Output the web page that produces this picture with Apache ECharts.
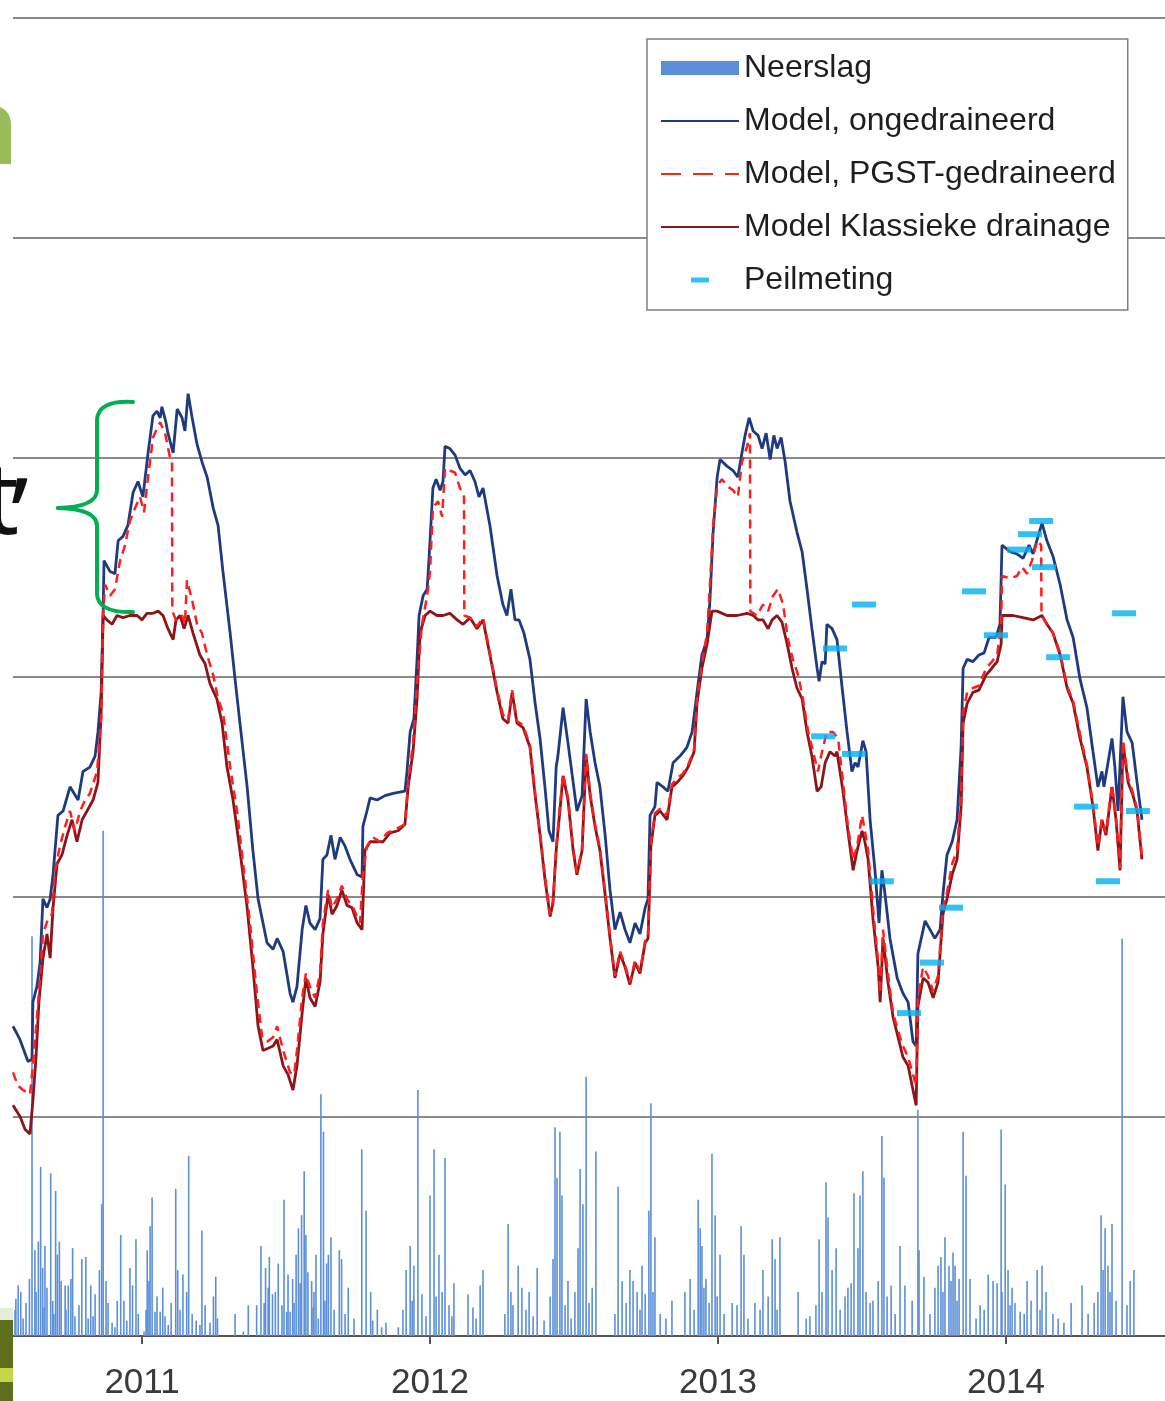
<!DOCTYPE html>
<html>
<head>
<meta charset="utf-8">
<script src="https://cdn.jsdelivr.net/npm/echarts@6/dist/echarts.min.js"></script>
<style>
html,body{margin:0;padding:0;background:#fff;}
#chart{width:1165px;height:1401px;}
</style>
</head>
<body>
<div id="chart"></div>
<script>
// x values: decimal years; groundwater values: level units (grid step 100); precipitation: mm/day
var yearTicks = [2011, 2012, 2013, 2014];
var seriesNames = ['Neerslag', 'Model, ongedraineerd', 'Model, PGST-gedraineerd', 'Model Klassieke drainage', 'Peilmeting'];

var neerslag = [
[2010.562,1.7],[2010.570,2.3],[2010.579,2.0],[2010.609,2.6],[2010.618,18.2],[2010.628,3.9],[2010.640,4.3],[2010.648,7.7],
[2010.655,3.1],[2010.663,4.1],[2010.683,7.4],[2010.690,1.6],[2010.700,6.6],[2010.706,3.7],[2010.713,4.3],[2010.733,2.3],
[2010.744,2.3],[2010.753,2.6],[2010.759,4.0],[2010.791,3.5],[2010.805,3.6],[2010.813,0.8],[2010.822,2.3],[2010.837,1.9],
[2010.852,3.0],[2010.860,6.0],[2010.865,23.0],[2010.875,2.5],[2010.906,0.4],[2010.914,1.6],[2010.926,4.6],[2010.937,1.6],
[2010.947,0.7],[2010.958,3.1],[2010.967,2.3],[2010.979,4.4],[2010.987,1.0],[2011.007,0.2],[2011.018,3.9],[2011.028,5.0],
[2011.035,6.3],[2011.045,1.1],[2011.063,1.1],[2011.072,2.2],[2011.091,0.5],[2011.117,6.7],[2011.124,3.0],[2011.155,2.0],
[2011.162,8.2],[2011.201,0.5],[2011.208,4.8],[2011.248,1.8],[2011.256,2.7],[2011.262,0.8],[2011.323,1.0],[2011.352,0.2],
[2011.369,1.4],[2011.398,1.4],[2011.413,4.1],[2011.429,3.1],[2011.442,3.6],[2011.453,1.9],[2011.463,2.0],[2011.473,3.3],
[2011.493,6.2],[2011.502,1.1],[2011.514,1.1],[2011.523,2.6],[2011.535,3.7],[2011.543,4.9],[2011.554,5.5],[2011.563,7.5],
[2011.569,4.6],[2011.589,2.5],[2011.597,2.0],[2011.604,3.7],[2011.612,0.8],[2011.621,11.0],[2011.630,9.3],[2011.641,3.3],
[2011.647,3.7],[2011.656,4.5],[2011.685,3.9],[2011.693,3.5],[2011.716,2.2],[2011.763,8.5],[2011.778,5.7],[2011.794,2.0],
[2011.801,0.7],[2011.817,1.2],[2011.832,0.4],[2011.847,0.6],[2011.890,0.4],[2011.917,3.0],[2011.931,4.1],[2011.944,3.2],
[2011.958,11.2],[2011.972,1.9],[2012.000,6.4],[2012.014,8.5],[2012.031,3.7],[2012.052,8.1],[2012.066,1.4],[2012.083,2.4],
[2012.132,1.9],[2012.149,1.3],[2012.174,2.3],[2012.184,3.0],[2012.271,5.1],[2012.288,1.4],[2012.306,3.2],[2012.319,2.2],
[2012.344,2.0],[2012.372,3.1],[2012.396,0.7],[2012.434,9.5],[2012.441,7.2],[2012.451,9.3],[2012.458,6.4],[2012.479,2.5],
[2012.521,7.6],[2012.531,6.0],[2012.542,11.8],[2012.552,1.5],[2012.576,8.4],[2012.653,6.8],[2012.667,2.5],[2012.694,3.0],
[2012.705,2.5],[2012.736,3.2],[2012.747,1.9],[2012.760,5.7],[2012.767,10.6],[2012.781,4.5],[2012.799,1.0],[2012.840,1.6],
[2012.885,2.0],[2012.903,2.6],[2012.931,6.2],[2012.938,4.9],[2012.944,4.1],[2012.958,2.6],[2012.979,8.3],[2012.990,5.5],
[2013.007,3.7],[2013.049,1.5],[2013.080,5.0],[2013.090,3.7],[2013.128,1.5],[2013.156,3.0],[2013.188,4.4],[2013.198,3.5],
[2013.215,4.5],[2013.278,2.0],[2013.306,0.8],[2013.319,0.9],[2013.351,4.4],[2013.375,7.0],[2013.382,5.4],[2013.396,3.0],
[2013.410,4.0],[2013.451,2.2],[2013.472,6.5],[2013.486,4.0],[2013.493,6.4],[2013.503,7.5],[2013.538,1.6],[2013.569,9.1],
[2013.576,7.2],[2013.601,2.3],[2013.632,4.1],[2013.649,2.3],[2013.694,10.3],[2013.698,3.9],[2013.715,2.7],[2013.764,3.2],
[2013.774,3.6],[2013.788,4.5],[2013.802,3.2],[2013.816,3.8],[2013.823,3.2],[2013.837,2.6],[2013.851,9.3],[2013.861,7.3],
[2013.875,2.6],[2013.910,1.4],[2013.938,2.8],[2013.955,2.5],[2013.969,2.4],[2013.983,9.4],[2013.997,6.9],[2014.014,1.4],
[2014.031,1.5],[2014.049,1.1],[2014.073,2.5],[2014.108,3.0],[2014.125,3.2],[2014.163,1.0],[2014.226,1.5],[2014.264,2.3],
[2014.306,1.5],[2014.330,5.5],[2014.344,4.9],[2014.354,3.2],[2014.368,5.1],[2014.403,18.1],[2014.431,2.5],[2014.444,3.0],
[2010.559,1.2],[2010.587,0.8],[2010.597,1.5],[2010.632,2.0],[2010.660,1.3],[2010.670,2.2],[2010.694,1.0],[2010.719,2.5],
[2010.736,1.2],[2010.767,0.9],[2010.781,1.4],[2010.830,0.9],[2010.882,1.5],[2010.896,0.6],[2011.014,1.2],[2011.024,2.5],
[2011.052,1.8],[2011.080,0.9],[2011.101,1.5],[2011.132,1.2],[2011.142,2.8],[2011.174,1.0],[2011.188,0.7],[2011.219,1.4],
[2011.236,0.6],[2011.424,1.5],[2011.438,2.2],[2011.486,1.4],[2011.507,2.8],[2011.528,1.5],[2011.549,2.4],[2011.576,2.9],
[2011.594,1.3],[2011.635,1.6],[2011.667,1.2],[2011.705,1.0],[2011.736,0.8],[2011.906,1.2],[2011.938,1.6],[2011.986,0.9],
[2012.021,1.8],[2012.042,2.0],[2012.076,0.9],[2012.160,0.8],[2012.260,1.0],[2012.281,2.0],[2012.333,1.2],[2012.358,0.9],
[2012.417,1.8],[2012.427,3.5],[2012.469,1.4],[2012.490,0.8],[2012.503,2.0],[2012.514,4.0],[2012.563,2.2],[2012.642,1.0],
[2012.681,1.5],[2012.719,2.0],[2012.729,1.2],[2012.774,2.0],[2012.819,0.8],[2012.917,1.2],[2012.951,2.2],[2012.969,1.5],
[2012.997,1.8],[2013.021,1.0],[2013.066,1.4],[2013.104,0.8],[2013.146,1.2],[2013.174,1.8],[2013.205,1.2],[2013.340,1.4],
[2013.361,2.0],[2013.424,1.2],[2013.441,1.8],[2013.462,2.4],[2013.514,2.0],[2013.528,1.5],[2013.556,2.5],[2013.587,1.8],
[2013.615,1.0],[2013.674,1.6],[2013.736,1.0],[2013.753,2.2],[2013.781,2.0],[2013.809,2.5],[2013.830,1.6],[2013.896,0.8],
[2013.924,1.2],[2013.986,2.0],[2014.007,3.0],[2014.021,2.2],[2014.063,1.0],[2014.087,1.6],[2014.118,1.2],[2014.139,2.0],
[2014.181,0.8],[2014.201,0.6],[2014.285,1.0],[2014.319,2.0],[2014.337,3.0],[2014.361,2.0],[2014.382,1.6],[2014.420,1.4]
];

var ongedraineerd = [
[2010.552,141],[2010.576,135],[2010.604,125],[2010.618,126],[2010.621,152],[2010.635,159],[2010.646,170],[2010.656,199],
[2010.670,195],[2010.681,199],[2010.691,210],[2010.708,237],[2010.726,239],[2010.750,250],[2010.778,244],[2010.795,257],
[2010.819,259],[2010.837,264],[2010.847,275],[2010.858,293],[2010.865,330],[2010.868,353],[2010.889,348],[2010.906,347],
[2010.917,362],[2010.934,364],[2010.951,369],[2010.969,384],[2010.986,389],[2011.003,382],[2011.021,402],[2011.038,419],
[2011.052,421],[2011.063,418],[2011.069,423],[2011.083,416],[2011.090,411],[2011.108,402],[2011.122,422],[2011.139,418],
[2011.149,412],[2011.160,429],[2011.174,418],[2011.191,406],[2011.208,398],[2011.226,391],[2011.247,377],[2011.264,369],
[2011.281,348],[2011.306,320],[2011.323,299],[2011.340,279],[2011.365,250],[2011.385,221],[2011.403,199],[2011.420,188],
[2011.434,179],[2011.455,176],[2011.469,181],[2011.490,175],[2011.514,156],[2011.524,152],[2011.538,159],[2011.556,185],
[2011.569,196],[2011.583,188],[2011.601,185],[2011.618,190],[2011.628,217],[2011.642,219],[2011.656,228],[2011.670,217],
[2011.688,227],[2011.705,223],[2011.722,217],[2011.747,210],[2011.764,209],[2011.767,232],[2011.781,239],[2011.792,245],
[2011.816,244],[2011.844,246],[2011.872,247],[2011.913,248],[2011.920,257],[2011.931,275],[2011.944,281],[2011.955,308],
[2011.962,328],[2011.976,337],[2011.990,340],[2011.997,355],[2012.010,386],[2012.021,390],[2012.035,385],[2012.045,389],
[2012.052,405],[2012.069,404],[2012.087,401],[2012.104,395],[2012.122,392],[2012.139,394],[2012.156,389],[2012.170,382],
[2012.184,386],[2012.208,369],[2012.233,346],[2012.253,333],[2012.267,328],[2012.281,340],[2012.295,326],[2012.309,326],
[2012.326,320],[2012.347,308],[2012.365,288],[2012.382,272],[2012.399,250],[2012.413,230],[2012.427,225],[2012.438,259],
[2012.444,264],[2012.462,286],[2012.479,270],[2012.497,252],[2012.510,239],[2012.528,246],[2012.542,290],[2012.556,275],
[2012.573,261],[2012.590,250],[2012.608,228],[2012.625,203],[2012.642,185],[2012.660,193],[2012.677,185],[2012.694,179],
[2012.712,188],[2012.729,183],[2012.747,195],[2012.757,199],[2012.764,237],[2012.781,241],[2012.788,252],[2012.809,250],
[2012.826,248],[2012.844,261],[2012.868,264],[2012.892,268],[2012.910,275],[2012.927,293],[2012.944,310],[2012.962,317],
[2012.972,335],[2012.983,366],[2012.997,391],[2013.007,399],[2013.031,396],[2013.052,394],[2013.069,391],[2013.083,402],
[2013.094,410],[2013.108,418],[2013.122,412],[2013.139,410],[2013.153,404],[2013.167,411],[2013.181,399],[2013.194,410],
[2013.205,404],[2013.219,409],[2013.233,398],[2013.250,380],[2013.274,366],[2013.292,357],[2013.309,340],[2013.326,322],
[2013.344,304],[2013.351,298],[2013.361,307],[2013.372,306],[2013.378,324],[2013.396,322],[2013.413,317],[2013.431,295],
[2013.448,275],[2013.465,257],[2013.476,261],[2013.486,259],[2013.503,271],[2013.514,266],[2013.528,235],[2013.545,212],
[2013.559,188],[2013.569,212],[2013.580,201],[2013.597,181],[2013.622,163],[2013.642,156],[2013.660,152],[2013.677,134],
[2013.688,132],[2013.694,174],[2013.719,189],[2013.736,185],[2013.753,181],[2013.771,185],[2013.781,201],[2013.795,219],
[2013.813,225],[2013.830,235],[2013.844,268],[2013.851,304],[2013.865,308],[2013.885,307],[2013.906,310],[2013.924,311],
[2013.941,318],[2013.965,318],[2013.979,324],[2013.986,360],[2014.014,357],[2014.038,356],[2014.059,354],[2014.080,360],
[2014.094,356],[2014.111,364],[2014.125,370],[2014.142,362],[2014.163,355],[2014.188,342],[2014.212,326],[2014.233,318],
[2014.257,299],[2014.281,286],[2014.302,266],[2014.319,250],[2014.333,257],[2014.340,250],[2014.354,261],[2014.368,272],
[2014.378,259],[2014.389,239],[2014.406,291],[2014.420,275],[2014.438,270],[2014.455,252],[2014.472,235]
];

var pgst = [
[2010.552,120],[2010.569,114],[2010.587,112],[2010.611,110],[2010.621,123],[2010.635,145],[2010.646,163],[2010.656,183],
[2010.674,190],[2010.687,192],[2010.698,212],[2010.715,223],[2010.733,232],[2010.750,239],[2010.767,230],[2010.785,239],
[2010.802,244],[2010.819,247],[2010.844,257],[2010.858,281],[2010.865,330],[2010.872,342],[2010.889,337],[2010.906,340],
[2010.924,353],[2010.941,360],[2010.958,371],[2010.976,377],[2010.993,382],[2011.007,375],[2011.021,391],[2011.038,409],
[2011.052,413],[2011.063,416],[2011.080,411],[2011.097,400],[2011.104,398],[2011.105,330],[2011.118,326],[2011.139,328],
[2011.149,324],[2011.156,344],[2011.174,335],[2011.191,324],[2011.208,320],[2011.226,310],[2011.247,301],[2011.264,290],
[2011.281,284],[2011.306,259],[2011.330,239],[2011.351,215],[2011.375,188],[2011.399,156],[2011.417,136],[2011.434,134],
[2011.455,136],[2011.469,141],[2011.490,130],[2011.514,120],[2011.528,119],[2011.538,130],[2011.556,154],[2011.569,165],
[2011.583,159],[2011.601,154],[2011.618,165],[2011.628,188],[2011.646,203],[2011.660,195],[2011.677,199],[2011.694,205],
[2011.712,199],[2011.733,195],[2011.757,188],[2011.767,210],[2011.781,223],[2011.802,227],[2011.826,225],[2011.851,229],
[2011.885,231],[2011.913,233],[2011.924,252],[2011.941,270],[2011.955,297],[2011.972,324],[2011.990,337],[2012.000,348],
[2012.010,377],[2012.028,380],[2012.042,373],[2012.052,395],[2012.069,394],[2012.087,393],[2012.104,386],[2012.118,382],
[2012.119,328],[2012.139,327],[2012.163,323],[2012.184,327],[2012.208,311],[2012.233,294],[2012.253,283],[2012.271,280],
[2012.285,294],[2012.302,280],[2012.323,278],[2012.347,269],[2012.365,247],[2012.382,229],[2012.399,209],[2012.417,192],
[2012.427,198],[2012.438,222],[2012.448,237],[2012.462,256],[2012.479,245],[2012.497,222],[2012.510,211],[2012.528,222],
[2012.542,265],[2012.556,247],[2012.573,233],[2012.590,222],[2012.608,202],[2012.625,182],[2012.642,164],[2012.660,175],
[2012.677,169],[2012.694,161],[2012.712,171],[2012.729,166],[2012.747,180],[2012.757,182],[2012.767,225],[2012.781,238],
[2012.799,240],[2012.823,237],[2012.840,251],[2012.858,254],[2012.878,256],[2012.896,260],[2012.917,267],[2012.927,290],
[2012.944,306],[2012.962,320],[2012.972,342],[2012.983,369],[2012.997,387],[2013.014,390],[2013.031,387],[2013.052,385],
[2013.069,382],[2013.083,398],[2013.101,405],[2013.111,411],[2013.112,330],[2013.135,328],[2013.156,333],[2013.174,330],
[2013.191,337],[2013.208,340],[2013.226,333],[2013.243,317],[2013.260,308],[2013.278,301],[2013.295,290],[2013.313,275],
[2013.330,266],[2013.347,257],[2013.361,266],[2013.378,275],[2013.399,275],[2013.417,272],[2013.434,252],[2013.451,232],
[2013.469,217],[2013.483,223],[2013.500,237],[2013.510,230],[2013.521,221],[2013.538,195],[2013.556,170],[2013.563,156],
[2013.573,185],[2013.590,165],[2013.608,147],[2013.625,139],[2013.642,132],[2013.660,127],[2013.677,119],[2013.688,114],
[2013.694,154],[2013.712,168],[2013.729,164],[2013.747,157],[2013.764,164],[2013.781,195],[2013.795,202],[2013.813,215],
[2013.830,221],[2013.844,246],[2013.851,284],[2013.865,293],[2013.885,295],[2013.906,296],[2013.931,304],[2013.951,307],
[2013.969,310],[2013.983,324],[2013.986,346],[2014.014,345],[2014.038,346],[2014.056,350],[2014.073,347],[2014.090,353],
[2014.108,362],[2014.122,360],[2014.123,328],[2014.142,324],[2014.163,320],[2014.188,311],[2014.212,296],[2014.233,289],
[2014.257,274],[2014.281,260],[2014.302,242],[2014.319,223],[2014.333,235],[2014.347,229],[2014.368,251],[2014.382,235],
[2014.396,213],[2014.406,271],[2014.424,254],[2014.441,247],[2014.455,240],[2014.472,218]
];

var klassiek = [
[2010.552,105],[2010.576,100],[2010.594,94],[2010.611,92],[2010.621,107],[2010.632,127],[2010.642,152],[2010.656,172],
[2010.670,183],[2010.681,172],[2010.691,195],[2010.705,215],[2010.722,219],[2010.740,228],[2010.757,235],[2010.774,225],
[2010.792,235],[2010.809,239],[2010.830,244],[2010.847,252],[2010.858,284],[2010.865,328],[2010.878,326],[2010.896,324],
[2010.913,328],[2010.934,327],[2010.958,328],[2010.983,328],[2011.000,326],[2011.017,329],[2011.038,329],[2011.056,330],
[2011.073,328],[2011.090,322],[2011.108,317],[2011.118,326],[2011.132,328],[2011.146,322],[2011.160,328],[2011.177,320],
[2011.201,310],[2011.219,306],[2011.236,297],[2011.260,290],[2011.278,279],[2011.295,259],[2011.316,244],[2011.340,221],
[2011.365,195],[2011.385,168],[2011.403,141],[2011.420,130],[2011.438,131],[2011.455,132],[2011.469,135],[2011.490,123],
[2011.507,119],[2011.524,112],[2011.538,123],[2011.556,147],[2011.569,163],[2011.583,154],[2011.601,150],[2011.618,161],
[2011.628,183],[2011.646,201],[2011.660,192],[2011.677,196],[2011.694,203],[2011.712,196],[2011.729,195],[2011.747,188],
[2011.764,185],[2011.774,221],[2011.792,225],[2011.816,225],[2011.837,225],[2011.861,229],[2011.889,230],[2011.913,233],
[2011.924,250],[2011.941,266],[2011.955,290],[2011.965,320],[2011.983,328],[2012.000,330],[2012.024,328],[2012.045,328],
[2012.069,329],[2012.094,326],[2012.115,324],[2012.139,327],[2012.163,322],[2012.184,326],[2012.208,310],[2012.233,293],
[2012.253,281],[2012.271,279],[2012.285,293],[2012.302,279],[2012.323,277],[2012.347,268],[2012.365,246],[2012.382,228],
[2012.399,208],[2012.417,191],[2012.427,197],[2012.438,221],[2012.448,235],[2012.462,255],[2012.479,244],[2012.497,221],
[2012.510,210],[2012.528,221],[2012.542,264],[2012.556,246],[2012.573,232],[2012.590,221],[2012.608,201],[2012.625,181],
[2012.642,163],[2012.660,174],[2012.677,168],[2012.694,160],[2012.712,170],[2012.729,165],[2012.747,179],[2012.757,181],
[2012.767,223],[2012.781,237],[2012.799,239],[2012.823,235],[2012.840,250],[2012.858,252],[2012.878,255],[2012.896,259],
[2012.917,266],[2012.927,288],[2012.944,304],[2012.962,315],[2012.979,330],[2012.997,330],[2013.031,328],[2013.066,328],
[2013.101,329],[2013.122,328],[2013.139,326],[2013.156,326],[2013.174,322],[2013.188,326],[2013.205,328],[2013.222,325],
[2013.240,315],[2013.257,304],[2013.274,295],[2013.292,290],[2013.309,275],[2013.326,264],[2013.344,248],[2013.358,250],
[2013.372,261],[2013.389,266],[2013.406,264],[2013.413,266],[2013.434,248],[2013.451,230],[2013.469,212],[2013.483,221],
[2013.500,230],[2013.510,225],[2013.521,217],[2013.538,190],[2013.556,168],[2013.563,152],[2013.573,181],[2013.590,161],
[2013.608,145],[2013.625,136],[2013.642,127],[2013.660,123],[2013.677,112],[2013.688,105],[2013.694,150],[2013.712,163],
[2013.729,161],[2013.747,154],[2013.764,161],[2013.781,192],[2013.795,199],[2013.813,210],[2013.830,217],[2013.844,241],
[2013.851,279],[2013.865,288],[2013.885,293],[2013.906,294],[2013.931,301],[2013.951,304],[2013.969,307],[2013.983,315],
[2013.986,328],[2014.024,328],[2014.059,327],[2014.094,326],[2014.125,328],[2014.142,324],[2014.163,320],[2014.188,310],
[2014.212,295],[2014.233,288],[2014.257,272],[2014.281,259],[2014.302,241],[2014.319,221],[2014.333,235],[2014.347,228],
[2014.368,250],[2014.382,235],[2014.396,212],[2014.406,270],[2014.424,252],[2014.441,246],[2014.455,239],[2014.472,217]
];

var peilmeting = [
[2013.365,273],[2013.406,313],[2013.472,265],[2013.507,333],[2013.569,207],[2013.663,147],[2013.743,170],[2013.809,195],
[2013.889,339],[2013.965,319],[2014.045,358],[2014.083,365],[2014.122,371],[2014.132,350],[2014.181,309],[2014.278,241],
[2014.354,207],[2014.410,329],[2014.458,239]
];

var chart = echarts.init(document.getElementById('chart'), null, {renderer: 'canvas'});
var FONT = '"Liberation Sans", Arial, sans-serif';
var BRACE = {stroke: '#00b050', lineWidth: 4, fill: null, lineCap: 'round'};
var HIDE_DOT = {opacity: 0};

var option = {
  animation: false,
  backgroundColor: '#ffffff',
  grid: {left: 13, right: 0, top: 18, bottom: 63, containLabel: false},
  legend: {
    orient: 'vertical',
    left: 647, top: 39,
    padding: [13, 12, 14, 13],
    itemWidth: 78, itemHeight: 14, itemGap: 21,
    backgroundColor: '#ffffff',
    borderColor: '#7f7f7f', borderWidth: 1.5,
    textStyle: {fontFamily: FONT, fontSize: 32, color: '#1e1e1e', lineHeight: 28},
    data: [
      {name: seriesNames[0], icon: 'rect'},
      {name: seriesNames[1], itemStyle: HIDE_DOT},
      {name: seriesNames[2], itemStyle: HIDE_DOT, lineStyle: {type: [20, 12]}},
      {name: seriesNames[3], itemStyle: HIDE_DOT},
      {name: seriesNames[4], icon: 'path://M0,0L0.01,0L0.01,0.01Z M78,14L77.99,14L77.99,13.99Z M30,4.5H48V9.5H30Z'}
    ]
  },
  xAxis: {
    type: 'value',
    min: 2010.552, max: 2014.552,
    axisLine: {show: true, onZero: false, lineStyle: {color: '#555555', width: 2}},
    axisTick: {show: true, length: 8, inside: false, customValues: yearTicks, lineStyle: {color: '#555555', width: 2}},
    axisLabel: {
      customValues: yearTicks, margin: 30,
      fontFamily: FONT, fontSize: 35, color: '#3a3a3a',
      formatter: function (v) { return String(Math.round(v)); }
    },
    splitLine: {show: false}
  },
  yAxis: [
    {
      type: 'value', min: 0, max: 600, interval: 100,
      axisLine: {show: false}, axisTick: {show: false}, axisLabel: {show: false},
      splitLine: {show: true, lineStyle: {color: '#8a8a8a', width: 2}}
    },
    {
      type: 'value', min: 0, max: 60, interval: 10, show: false,
      splitLine: {show: false}
    }
  ],
  series: [
    {
      name: seriesNames[0], type: 'bar', yAxisIndex: 1, data: neerslag,
      barWidth: 1.6, itemStyle: {color: '#5b8fd9'}, z: 1
    },
    {
      name: seriesNames[1], type: 'line', data: ongedraineerd, symbol: 'none',
      lineStyle: {color: '#1f3b7f', width: 2.8}, itemStyle: {color: '#1f3b7f'}, z: 3
    },
    {
      name: seriesNames[2], type: 'line', data: pgst, symbol: 'none',
      lineStyle: {color: '#ff1e1e', width: 2.5, type: [9, 6]}, itemStyle: {color: '#ff1e1e'}, z: 4
    },
    {
      name: seriesNames[3], type: 'line', data: klassiek, symbol: 'none',
      lineStyle: {color: '#8b1518', width: 2.8}, itemStyle: {color: '#8b1518'}, z: 3
    },
    {
      name: seriesNames[4], type: 'scatter', data: peilmeting,
      symbol: 'rect', symbolSize: [24, 6], itemStyle: {color: '#00b0f0'}, z: 5
    }
  ],
  graphic: [
    {type: 'text', x: 19, y: 134, z: 10,
      style: {text: 'a', fill: '#9bbb59', font: 'bold 105px "Open Sans", "Noto Sans", sans-serif', align: 'right', verticalAlign: 'middle'}},
    {type: 'text', x: 19, y: 506, z: 10,
      style: {text: 't', fill: '#111111', font: '100px "Noto Sans", "Open Sans", sans-serif', align: 'right', verticalAlign: 'middle'}},
    {type: 'text', x: 11, y: 522, z: 10,
      style: {text: '\u2019', fill: '#111111', font: '100px "Noto Sans", "Open Sans", sans-serif', align: 'left', verticalAlign: 'middle'}},
    {type: 'bezierCurve', z: 10, shape: {x1: 133, y1: 402, cpx1: 98, cpy1: 400, x2: 97, y2: 420}, style: BRACE},
    {type: 'line', z: 10, shape: {x1: 97, y1: 420, x2: 97, y2: 490}, style: BRACE},
    {type: 'bezierCurve', z: 10, shape: {x1: 97, y1: 490, cpx1: 97, cpy1: 507, x2: 58, y2: 508}, style: BRACE},
    {type: 'bezierCurve', z: 10, shape: {x1: 58, y1: 508, cpx1: 97, cpy1: 509, x2: 97, y2: 526}, style: BRACE},
    {type: 'line', z: 10, shape: {x1: 97, y1: 526, x2: 97, y2: 594}, style: BRACE},
    {type: 'bezierCurve', z: 10, shape: {x1: 97, y1: 594, cpx1: 98, cpy1: 613, x2: 133, y2: 612}, style: BRACE},
    {type: 'rect', z: 10, shape: {x: 0, y: 1318, width: 13, height: 83}, style: {fill: '#5f6e1c'}},
    {type: 'rect', z: 11, shape: {x: 0, y: 1368, width: 13, height: 14}, style: {fill: '#c6d64a'}},
    {type: 'rect', z: 11, shape: {x: 0, y: 1308, width: 13, height: 12}, style: {fill: '#e8edd8'}}
  ]
};
chart.setOption(option);
</script>
</body>
</html>
